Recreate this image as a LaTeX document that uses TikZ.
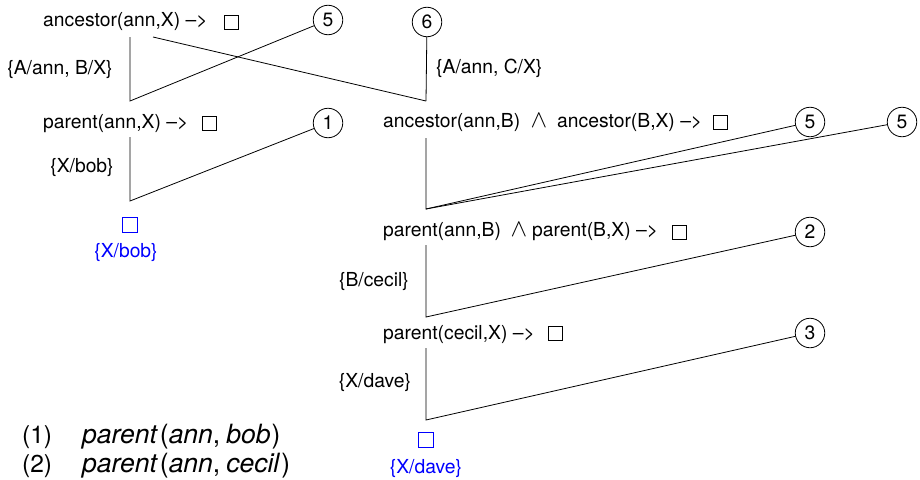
\documentclass[tikz,border=0pt]{standalone}
\usepackage{fontspec}
\setmainfont{TeX Gyre Heros}
\begin{document}
\begin{tikzpicture}[x=1pt,y=-1pt,
  lbl/.style={font=\fontsize{19.3}{22}\selectfont, inner sep=0pt},
  wdg/.style={font=\fontsize{24}{26}\selectfont, inner sep=0pt},
  lblbig/.style={font=\fontsize{24.5}{28}\selectfont, inner sep=0pt},
  lblit/.style={font=\fontsize{26.5}{30}\selectfont, inner sep=0pt},
  num/.style={circle, draw, line width=0.8pt, minimum size=29.5pt, inner sep=0pt, font=\fontsize{19.3}{22}\selectfont},
  sq/.style={draw, line width=0.8pt, minimum size=14pt, inner sep=0pt},
  bsq/.style={draw=blue, line width=0.9pt, minimum size=14.5pt, inner sep=0pt},
  blbl/.style={lbl, text=blue},
  edge/.style={line width=0.8pt}]
\useasboundingbox (0,0) rectangle (920,479);

% top goal
\node[lbl,anchor=west] (t1) at (43,22) {ancestor(ann,X) --{>}};
\node[sq] (s1) at (231,22) {};
\node[num] (c5a) at (328,20) {5};
\node[num] (c6) at (427,22) {6};
\coordinate (a1) at (130,37);
\coordinate (a1b) at (130,101);
\coordinate (x1) at (153,37);
\coordinate (j1) at (426,101);
\node[lbl] (u1) at (60,70) {\{A/ann, B/X\}};
\node[lbl,anchor=west] (u2) at (436,68) {\{A/ann, C/X\}};
\draw[edge] (a1) -- (a1b) -- (c5a);
\draw[edge] (x1) -- (j1);
\draw[edge] (c6) -- (j1);

% left branch
\node[lbl,anchor=west] (t2) at (43,124) {parent(ann,X) --{>}};
\node[sq] (s2) at (209,123) {};
\node[num] (c1) at (328,123) {1};
\coordinate (a2) at (130,137);
\coordinate (a2b) at (130,201);
\node[lbl] (u3) at (82,168) {\{X/bob\}};
\draw[edge] (a2) -- (a2b) -- (c1);
\node[bsq] (b1) at (130,225) {};
\node[blbl] (bl1) at (126,253) {\{X/bob\}};

% right branch
\node[lbl,anchor=west] (t3) at (383,123) {ancestor(ann,B)};
\node[wdg] (w3) at (539,121) {$\wedge$};
\node[lbl,anchor=west] (t3b) at (557,123) {ancestor(B,X) --{>}};
\node[sq] (s3) at (720,122) {};
\node[num] (c5b) at (810,122) {5};
\node[num] (c5c) at (902,122) {5};
\coordinate (a3) at (426,138);
\coordinate (a3b) at (426,209);
\draw[edge] (a3) -- (a3b) -- (c5b);
\draw[edge] (a3b) -- (c5c);

\node[lbl,anchor=west] (t4) at (383,232) {parent(ann,B)};
\node[wdg] (w4) at (519,230) {$\wedge$};
\node[lbl,anchor=west] (t4b) at (532,232) {parent(B,X) --{>}};
\node[sq] (s4) at (679,232) {};
\node[num] (c2) at (810,232) {2};
\coordinate (a4) at (426,245);
\coordinate (a4b) at (426,317);
\node[lbl] (u4) at (374,282) {\{B/cecil\}};
\draw[edge] (a4) -- (a4b) -- (c2);

\node[lbl,anchor=west] (t5) at (383,335) {parent(cecil,X) --{>}};
\node[sq] (s5) at (555,333) {};
\node[num] (c3) at (810,333) {3};
\coordinate (a5) at (426,348);
\coordinate (a5b) at (426,420);
\node[lbl] (u5) at (375,383) {\{X/dave\}};
\draw[edge] (a5) -- (a5b) -- (c3);
\node[bsq] (b2) at (426,440) {};
\node[blbl] (bl2) at (426,469) {\{X/dave\}};

% facts
\node[lblbig,anchor=west] (f1) at (22,437) {(1)};
\node[lblit,anchor=west] (f1b) at (82,437) {\textit{parent}\kern2pt(\textit{ann},\kern6pt\textit{bob}\kern1pt)};
\node[lblbig,anchor=west] (f2) at (22,466) {(2)};
\node[lblit,anchor=west] (f2b) at (82,466) {\textit{parent}\kern2pt(\textit{ann},\kern6pt\textit{cecil}\kern1pt)};
\end{tikzpicture}
\end{document}
